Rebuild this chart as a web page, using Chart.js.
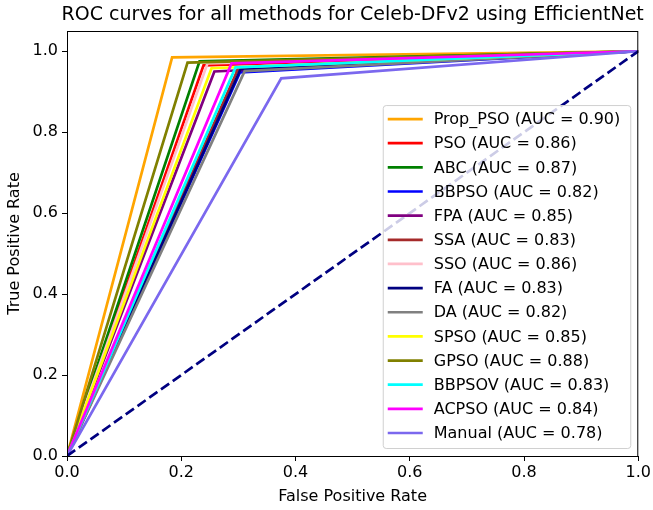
<!DOCTYPE html>
<html>
<head>
<meta charset="utf-8">
<script src="https://cdn.jsdelivr.net/npm/chart.js@4.4.0/dist/chart.umd.min.js"></script>
<style>
  body { margin: 0; background: #fff; }
  canvas { display: block; }
</style>
</head>
<body>
<canvas id="roc" width="653" height="510"></canvas>
<script>
// methods and knee point of each ROC curve (curve goes 0,0 -> knee -> 1,1)
const methods = ['Prop_PSO', 'PSO', 'ABC', 'BBPSO', 'FPA', 'SSA', 'SSO', 'FA', 'DA', 'SPSO', 'GPSO', 'BBPSOV', 'ACPSO', 'Manual'];
const aucValues = [0.90, 0.86, 0.87, 0.82, 0.85, 0.83, 0.86, 0.83, 0.82, 0.85, 0.88, 0.83, 0.84, 0.78];
const kneeFpr = [0.184, 0.239, 0.232, 0.303, 0.258, 0.300, 0.246, 0.304, 0.311, 0.253, 0.211, 0.295, 0.288, 0.375];
const kneeTpr = [0.985, 0.965, 0.975, 0.948, 0.950, 0.958, 0.970, 0.956, 0.951, 0.958, 0.972, 0.960, 0.970, 0.933];
const lineColors = ['#FFA500', '#FF0000', '#008000', '#0000FF', '#800080', '#A52A2A', '#FFC0CB', '#000080', '#808080', '#FFFF00', '#808000', '#00FFFF', '#FF00FF', '#7B68EE'];

const diagX = [0, 1];
const diagY = [0, 1];

const xTicks = [0, 0.2, 0.4, 0.6, 0.8, 1.0];
const yTicks = [0, 0.2, 0.4, 0.6, 0.8, 1.0];

const FONT = 'DejaVu Sans';
const FS = 16;

const datasets = methods.map((m, i) => ({
    label: `${m} (AUC = ${aucValues[i].toFixed(2)})`,
    data: [{ x: 0, y: 0 }, { x: kneeFpr[i], y: kneeTpr[i] }, { x: 1, y: 1 }],
    borderColor: lineColors[i],
    backgroundColor: lineColors[i],
    borderWidth: 2.7,
    pointRadius: 0,
    tension: 0,
    fill: false,
    order: 100 - i   // later series on top, like matplotlib
}));

datasets.push({
    label: '',
    data: diagX.map((x, i) => ({ x: x, y: diagY[i] })),
    borderColor: '#000080',
    borderWidth: 2.7,
    borderDash: [10, 4.4],
    pointRadius: 0,
    fill: false,
    order: 0
});

// white background, title over the axes, top/right spines and the inside legend
const extras = {
    id: 'extras',
    beforeDraw(chart) {
        const ctx = chart.ctx;
        ctx.save();
        ctx.fillStyle = '#fff';
        ctx.fillRect(0, 0, chart.width, chart.height);
        ctx.restore();
    },
    afterDatasetsDraw(chart) {
        const ctx = chart.ctx;
        const ca = chart.chartArea;
        ctx.save();
        ctx.strokeStyle = '#000';
        ctx.lineWidth = 1;
        ctx.strokeRect(ca.left + 0.5, ca.top + 0.5, ca.right - ca.left - 1, ca.bottom - ca.top);

        // title
        ctx.fillStyle = '#000';
        ctx.font = `19px "${FONT}"`;
        ctx.textAlign = 'center';
        ctx.textBaseline = 'middle';
        ctx.fillText('ROC curves for all methods for Celeb-DFv2 using EfficientNet', (ca.left + ca.right) / 2, 15);

        // legend
        ctx.font = `${FS}px "${FONT}"`;
        const labels = chart.data.datasets.filter(d => d.label).map(d => d.label);
        const maxW = Math.max(...labels.map(t => ctx.measureText(t).width));
        const rowH = 24.15;
        const boxRight = ca.right - 8;
        const boxBottom = ca.bottom - 8;
        const boxTop = boxBottom - (labels.length - 1) * rowH - 29;
        const textX = boxRight - 10 - maxW;
        const hx2 = textX - 11;
        const hx1 = hx2 - 35;
        const boxLeft = hx1 - 5;

        ctx.beginPath();
        ctx.roundRect(boxLeft + 0.5, boxTop + 0.5, boxRight - boxLeft, boxBottom - boxTop, 3);
        ctx.fillStyle = 'rgba(255,255,255,0.8)';
        ctx.fill();
        ctx.strokeStyle = '#d0d0d0';
        ctx.lineWidth = 1;
        ctx.stroke();

        ctx.textAlign = 'left';
        ctx.textBaseline = 'middle';
        labels.forEach((t, i) => {
            const y = boxTop + 14 + i * rowH;
            ctx.strokeStyle = lineColors[i];
            ctx.lineWidth = 2.7;
            ctx.beginPath();
            ctx.moveTo(hx1, y);
            ctx.lineTo(hx2, y);
            ctx.stroke();
            ctx.fillStyle = '#000';
            ctx.fillText(t, textX, y + 1);
        });
        ctx.restore();
    }
};

new Chart(document.getElementById('roc'), {
    type: 'line',
    data: { datasets: datasets },
    plugins: [extras],
    options: {
        responsive: false,
        animation: false,
        devicePixelRatio: 1,
        layout: { padding: { left: 0, right: 13, top: 31, bottom: 0 } },
        plugins: {
            legend: { display: false },
            title: { display: false },
            tooltip: { enabled: false }
        },
        scales: {
            x: {
                type: 'linear',
                min: 0,
                max: 1,
                afterFit: s => { s.height = 54; },
                afterBuildTicks: s => { s.ticks = xTicks.map(v => ({ value: v })); },
                border: { display: true, color: '#000', width: 1 },
                grid: { drawOnChartArea: false, drawTicks: true, tickLength: 5, tickColor: '#000' },
                ticks: {
                    color: '#000',
                    padding: 2,
                    maxRotation: 0,
                    font: { family: FONT, size: FS },
                    callback: v => v.toFixed(1)
                },
                title: {
                    display: true,
                    text: 'False Positive Rate',
                    color: '#000',
                    font: { family: FONT, size: FS },
                    padding: { top: 0, bottom: 4 }
                }
            },
            y: {
                type: 'linear',
                min: 0,
                max: 1.05,
                afterFit: s => { s.width = 67; },
                afterBuildTicks: s => { s.ticks = yTicks.map(v => ({ value: v })); },
                border: { display: true, color: '#000', width: 1 },
                grid: { drawOnChartArea: false, drawTicks: true, tickLength: 5, tickColor: '#000' },
                ticks: {
                    color: '#000',
                    padding: 4,
                    font: { family: FONT, size: FS },
                    callback: v => v.toFixed(1)
                },
                title: {
                    display: true,
                    text: 'True Positive Rate',
                    color: '#000',
                    font: { family: FONT, size: FS },
                    padding: { top: 5, bottom: 0 }
                }
            }
        }
    }
});
</script>
</body>
</html>
